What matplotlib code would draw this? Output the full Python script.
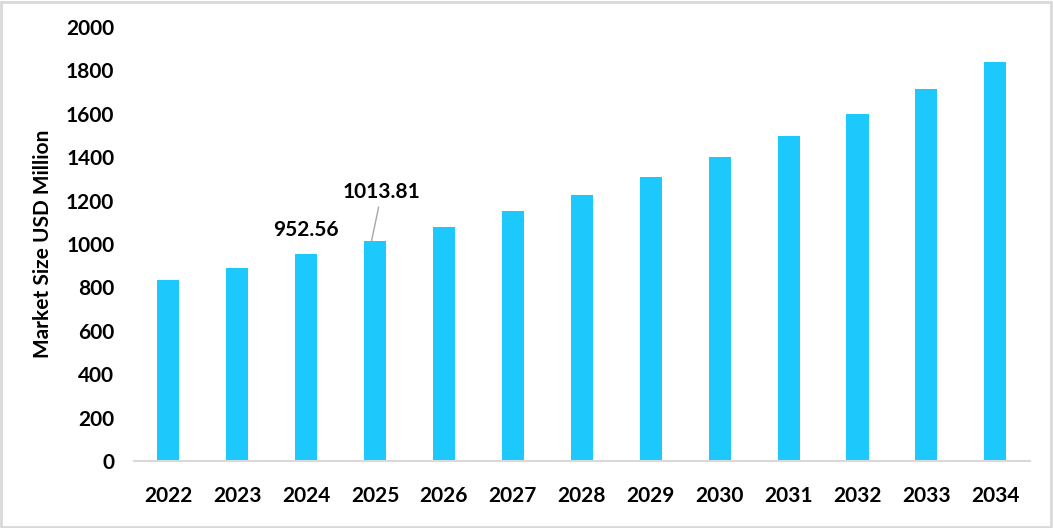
import matplotlib.pyplot as plt
import numpy as np

plt.rcParams['font.family'] = ['Lato', 'DejaVu Sans']

years = ['2022', '2023', '2024', '2025', '2026', '2027', '2028',
         '2029', '2030', '2031', '2032', '2033', '2034']
market_size = [836, 890, 952.56, 1013.81, 1079, 1150, 1227,
               1309, 1401, 1499, 1599, 1714, 1839]

fig = plt.figure(figsize=(10.53, 5.28), dpi=100)
ax = fig.add_axes([0.127, 0.127, 0.851, 0.822])

x = np.arange(len(years))
ax.bar(x, market_size, width=0.32, color='#1cc8fc')

ax.set_xlim(-0.5, len(years) - 0.5)
ax.set_ylim(0, 2000)
ax.set_yticks(np.arange(0, 2001, 200))
ax.set_xticks(x)
ax.set_xticklabels(years)

for s in ['top', 'right', 'left']:
    ax.spines[s].set_visible(False)
ax.spines['bottom'].set_color('#d9d9d9')
ax.spines['bottom'].set_linewidth(1.5)

ax.tick_params(axis='both', length=0, labelsize=15)
ax.tick_params(axis='x', pad=18)
ax.tick_params(axis='y', pad=14)
for lbl in ax.get_xticklabels() + ax.get_yticklabels():
    lbl.set_fontweight('bold')

ax.set_ylabel('Market Size USD Million', fontsize=15, fontweight='bold', labelpad=9)

# value labels
ax.annotate(f'{market_size[2]:.2f}', xy=(x[2], market_size[2]), xytext=(0, 10),
            textcoords='offset points', ha='center', va='bottom', fontsize=15,
            fontweight='bold')
ax.annotate(f'{market_size[3]:.2f}', xy=(x[3] - 0.05, market_size[3]),
            xytext=(x[3] + 0.1, 1195), textcoords='data', ha='center', va='bottom',
            fontsize=15, fontweight='bold',
            arrowprops=dict(arrowstyle='-', color='#a6a6a6', lw=1, shrinkA=2, shrinkB=0))

# outer border
fig.patches.append(plt.Rectangle((0.001, 0.002), 0.997, 0.995, transform=fig.transFigure,
                                 fill=False, edgecolor='#d9d9d9', linewidth=2))

fig.savefig('out.png', dpi=100)
